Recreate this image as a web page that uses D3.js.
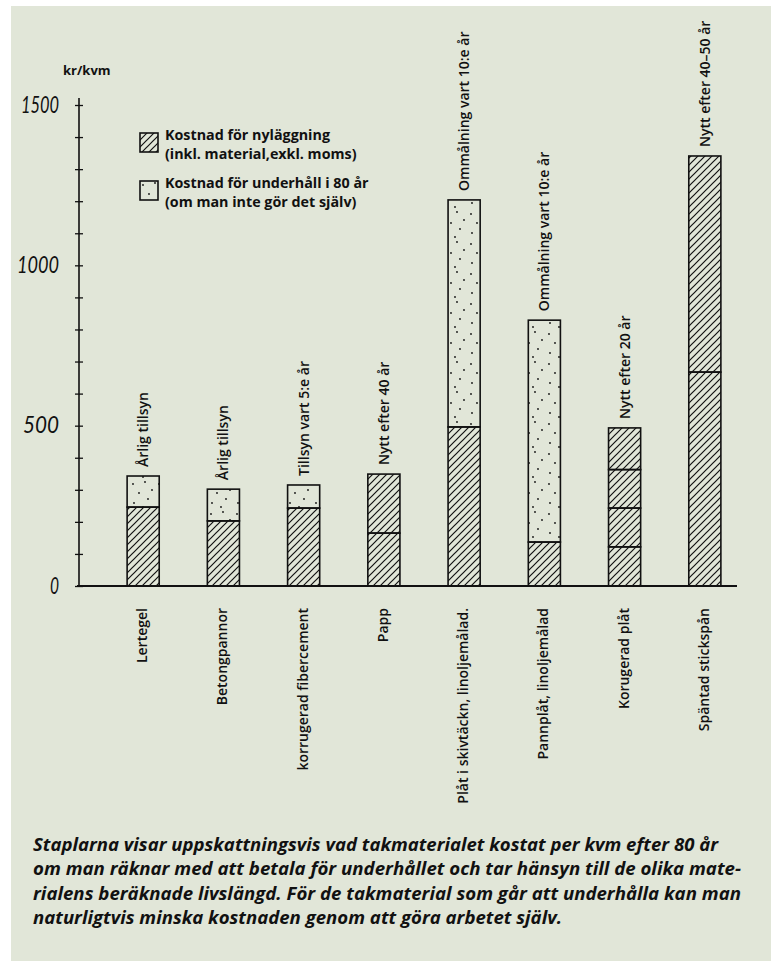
<!DOCTYPE html>
<html>
<head>
<meta charset="utf-8">
<script src="https://cdn.jsdelivr.net/npm/d3@7"></script>
<style>
  body { margin: 0; background: #fff; }
  svg { display: block; }
</style>
</head>
<body>
<div id="chart"></div>
<script>
// roof materials, cost per kvm over 80 years
const categories = ["Lertegel", "Betongpannor", "korrugerad fibercement", "Papp",
  "Plåt i skivtäckn, linoljemålad.", "Pannplåt, linoljemålad", "Korugerad plåt", "Späntad stickspån"]
const notes = ["Årlig tillsyn", "Årlig tillsyn", "Tillsyn vart 5:e år", "Nytt efter 40 år",
  "Ommålning vart 10:e år", "Ommålning vart 10:e år", "Nytt efter 20 år", "Nytt efter 40–50 år"]
// each laying (nyläggning) as its own hatched piece
const layingCosts = [[246], [203], [243], [165, 184], [496], [137], [122, 121, 120, 130], [667, 674]]
const maintenanceCosts = [97, 99, 72, 0, 708, 692, 0, 0]
const yTicks = [0, 100, 200, 300, 400, 500, 600, 700, 800, 900, 1000, 1100, 1200, 1300, 1400, 1500]
const yLabels = [0, 500, 1000, 1500]
const legendLabels = [
  ["Kostnad för nyläggning", "(inkl. material,exkl. moms)"],
  ["Kostnad för underhåll i 80 år", "(om man inte gör det själv)"]
]
const caption = [
  "Staplarna visar uppskattningsvis vad takmaterialet kostat per kvm efter 80 år",
  "om man räknar med att betala för underhållet och tar hänsyn till de olika mate-",
  "rialens beräknade livslängd. För de takmaterial som går att underhålla kan man",
  "naturligtvis minska kostnaden genom att göra arbetet själv."
]

const width = 771, height = 961
const font = "'Open Sans', 'Noto Sans', sans-serif"

const svg = d3.select('#chart').append('svg')
  .attr('width', width)
  .attr('height', height)

svg.append('rect')
  .attr('x', 11).attr('y', 6)
  .attr('width', width - 11).attr('height', height - 6)
  .attr('fill', '#e1e6d8')

// patterns
const defs = svg.append('defs')
const hatch = defs.append('pattern')
  .attr('id', 'hatch')
  .attr('patternUnits', 'userSpaceOnUse')
  .attr('width', 7).attr('height', 7)
hatch.append('path')
  .attr('d', 'M-1,8 L8,-1 M-1,1 L1,-1 M6,8 L8,6')
  .attr('stroke', '#111').attr('stroke-width', 1.2)

const dots = defs.append('pattern')
  .attr('id', 'dots')
  .attr('patternUnits', 'userSpaceOnUse')
  .attr('width', 26).attr('height', 30)
const dotPos = [[3, 4], [15, 2], [22, 10], [9, 13], [18, 19], [4, 23], [13, 27]]
dots.selectAll('circle').data(dotPos).enter().append('circle')
  .attr('cx', d => d[0]).attr('cy', d => d[1]).attr('r', 0.9)
  .attr('fill', '#111')

// scales
const y = d3.scaleLinear().domain([0, 1500]).range([586, 105])
const x = d3.scaleBand().domain(categories)
  .range([87, 761])
  .paddingInner(0.6)
  .paddingOuter(0.5)

// y axis
const yAxis = d3.axisLeft(y)
  .tickValues(yTicks)
  .tickSizeInner(4)
  .tickSizeOuter(0)
  .tickPadding(16)
  .tickFormat(d => yLabels.includes(d) ? d : '')

// hand lettered numbers are narrow
const labelWidth = { 0: 9, 500: 36, 1000: 42, 1500: 38 }

const gy = svg.append('g')
  .attr('transform', 'translate(79,0)')
  .call(yAxis)
gy.select('.domain').remove()
gy.selectAll('.tick line')
  .attr('x1', 4)
  .attr('stroke', '#111')
  .attr('stroke-width', 1.3)
gy.selectAll('.tick text')
  .filter(d => yLabels.includes(d))
  .attr('font-family', "Lato, 'DejaVu Sans', sans-serif")
  .attr('font-weight', 400)
  .attr('font-style', 'italic')
  .attr('font-size', 24)
  .attr('dy', '0.3em')
  .attr('textLength', d => labelWidth[d])
  .attr('lengthAdjust', 'spacingAndGlyphs')
  .attr('fill', '#111')
gy.append('line')
  .attr('x1', 0).attr('x2', 0)
  .attr('y1', y(1500) - 7).attr('y2', y(0))
  .attr('stroke', '#111').attr('stroke-width', 1.6)

svg.append('text')
  .attr('x', 63).attr('y', 75)
  .attr('font-family', font).attr('font-weight', 700).attr('font-size', 13)
  .attr('fill', '#111')
  .text('kr/kvm')

// stacked segments per bar
const bars = categories.map((c, i) => {
  const segs = []
  let base = 0
  layingCosts[i].forEach(v => {
    segs.push({ cat: c, y0: base, y1: base + v, type: 'hatch' })
    base += v
  })
  if (maintenanceCosts[i] > 0) {
    segs.push({ cat: c, y0: base, y1: base + maintenanceCosts[i], type: 'dots' })
    base += maintenanceCosts[i]
  }
  return { cat: c, note: notes[i], total: base, segs: segs }
})

const barG = svg.selectAll('.bar').data(bars).enter().append('g')
  .attr('class', 'bar')

barG.selectAll('rect').data(d => d.segs).enter().append('rect')
  .attr('x', d => x(d.cat))
  .attr('width', x.bandwidth())
  .attr('y', d => y(d.y1))
  .attr('height', d => y(d.y0) - y(d.y1))
  .attr('fill', d => 'url(#' + d.type + ')')
  .attr('stroke', '#111')
  .attr('stroke-width', 1.6)

// notes above bars
barG.append('text')
  .attr('transform', d => 'translate(' + (x(d.cat) + x.bandwidth() / 2) + ',' + (y(d.total) - 9) + ') rotate(-90)')
  .attr('dy', '0.35em')
  .attr('font-family', font).attr('font-weight', 600).attr('font-size', 14)
  .attr('fill', '#111')
  .text(d => d.note)

// baseline
svg.append('line')
  .attr('x1', 77).attr('x2', 737)
  .attr('y1', y(0)).attr('y2', y(0))
  .attr('stroke', '#111').attr('stroke-width', 2)

// category labels
svg.selectAll('.cat').data(categories).enter().append('text')
  .attr('class', 'cat')
  .attr('transform', d => 'translate(' + (x(d) + x.bandwidth() / 2 - 1) + ',' + (y(0) + 22) + ') rotate(-90)')
  .attr('dy', '0.35em')
  .attr('text-anchor', 'end')
  .attr('font-family', font).attr('font-weight', 600).attr('font-size', 14)
  .attr('fill', '#111')
  .text(d => d)

// legend
const legend = svg.selectAll('.legend').data(legendLabels).enter().append('g')
  .attr('class', 'legend')
  .attr('transform', (d, i) => 'translate(140,' + (133 + i * 48) + ')')
legend.append('rect')
  .attr('width', 18).attr('height', 19)
  .attr('fill', (d, i) => i === 0 ? 'url(#hatch)' : 'url(#dots)')
  .attr('stroke', '#111').attr('stroke-width', 1.6)
legend.selectAll('text').data(d => d).enter().append('text')
  .attr('x', 25)
  .attr('y', (d, j) => 7 + j * 19)
  .attr('font-family', font).attr('font-weight', 700).attr('font-size', 14.3)
  .attr('fill', '#111')
  .text(d => d)

// caption
const capWidths = [685, 708, 708, 529]
svg.selectAll('.caption').data(caption).enter().append('text')
  .attr('class', 'caption')
  .attr('x', 33)
  .attr('y', (d, i) => 851 + i * 24.3)
  .attr('textLength', (d, i) => capWidths[i])
  .attr('lengthAdjust', 'spacingAndGlyphs')
  .attr('font-family', font).attr('font-weight', 700).attr('font-style', 'italic')
  .attr('font-size', 18)
  .attr('fill', '#111')
  .text(d => d)
</script>
</body>
</html>
